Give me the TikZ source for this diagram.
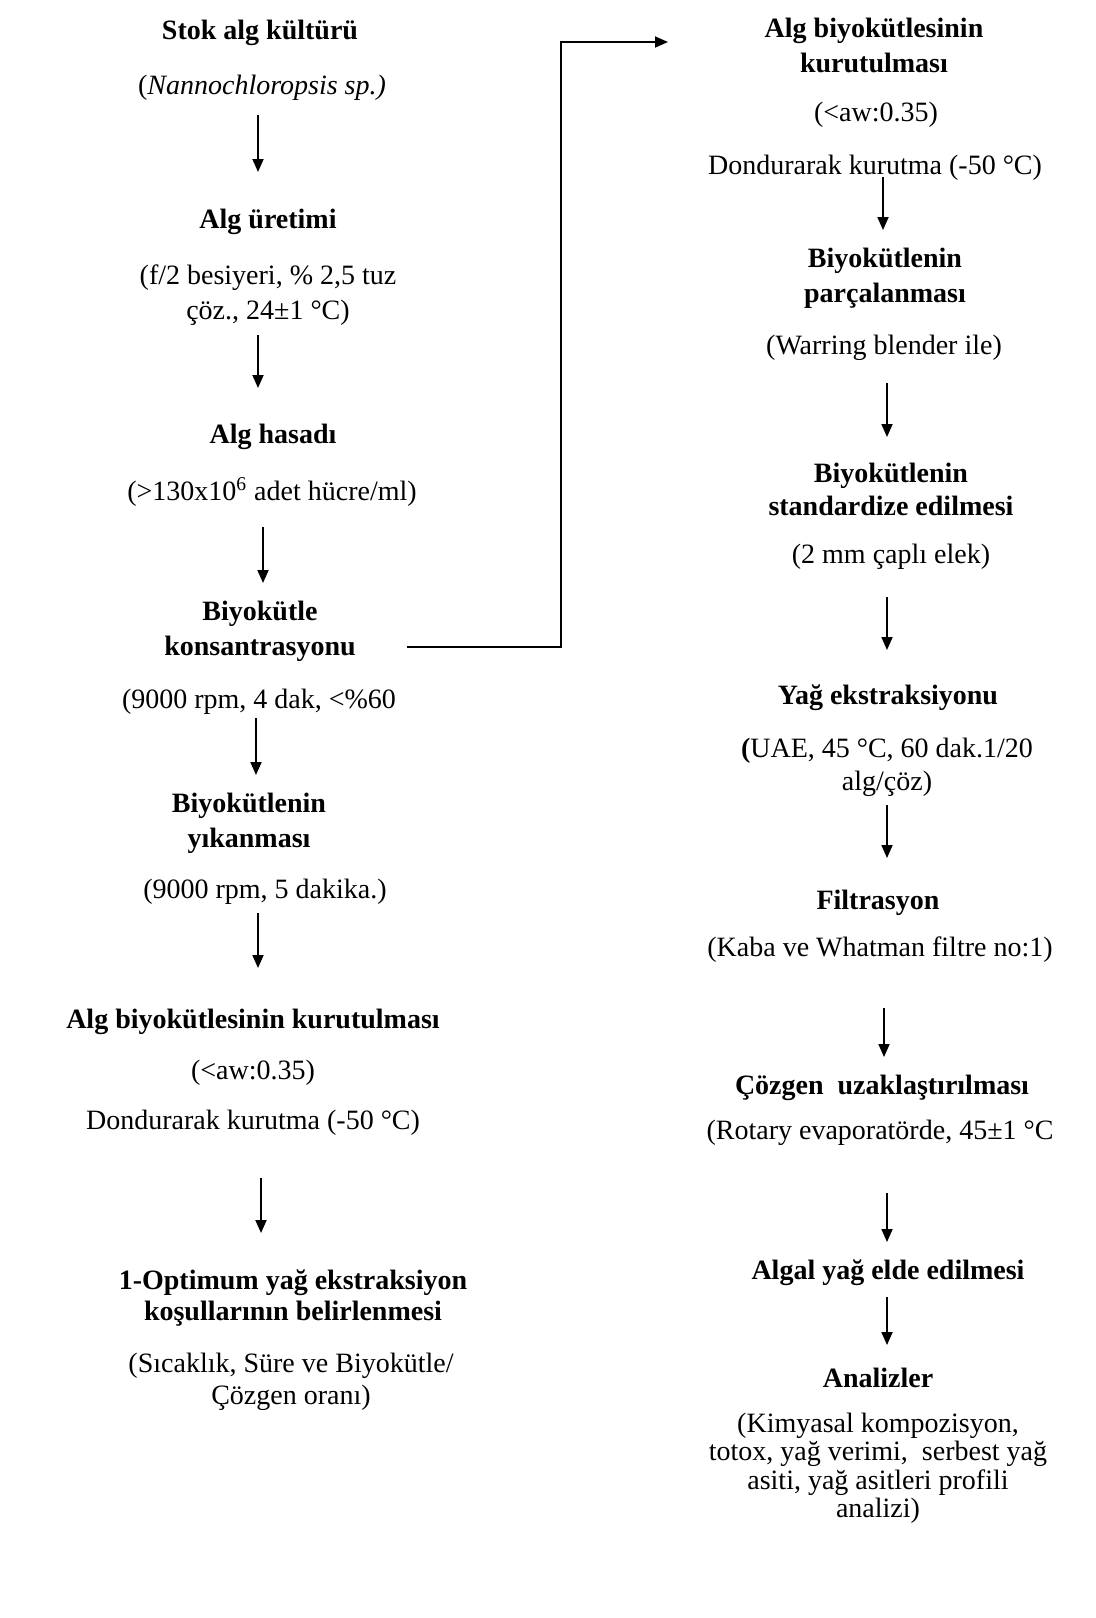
\documentclass[tikz,border=0pt]{standalone}
\usepackage{fontspec}
\setmainfont{Liberation Serif}
\usetikzlibrary{arrows.meta}

\begin{document}
\begin{tikzpicture}[x=0.5pt,y=-0.5pt,>={Triangle[length=6.5pt,width=5.5pt]},
  head/.style={font=\fontsize{14}{17.5}\selectfont\bfseries,align=center,inner sep=0pt},
  note/.style={font=\fontsize{14}{16.5}\selectfont,align=center,inner sep=0pt},
  arr/.style={->,line width=0.9pt}]
  \useasboundingbox (0,0) rectangle (1096,1618);

  % left column
  \node[head] (stok) at (260,33) {Stok alg kültürü};
  \node[note] (nano) at (262,88) {(\textit{Nannochloropsis sp.)}};
  \node[head] (urt) at (268,222) {Alg üretimi};
  \node[note,font=\fontsize{14}{17.5}\selectfont] (urtx) at (268,295) {(f/2 besiyeri, \% 2,5 tuz\\çöz., 24±1 °C)};
  \node[head] (has) at (273,437) {Alg hasadı};
  \node[note] (hasx) at (272,492) {(>130x10\textsuperscript{6} adet hücre/ml)};
  \node[head] (kons) at (260,631) {Biyokütle\\konsantrasyonu};
  \node[note] (konsx) at (259,702) {(9000 rpm, 4 dak, <\%60};
  \node[head] (yik) at (249,823) {Biyokütlenin\\yıkanması};
  \node[note] (yikx) at (265,892) {(9000 rpm, 5 dakika.)};
  \node[head] (kur) at (253,1022) {Alg biyokütlesinin kurutulması};
  \node[note] (kurx) at (253,1073) {(<aw:0.35)};
  \node[note] (kury) at (253,1123) {Dondurarak kurutma (-50 °C)};
  \node[head,font=\fontsize{14}{15.5}\selectfont\bfseries] (opt) at (293,1298) {1-Optimum yağ ekstraksiyon\\koşullarının belirlenmesi};
  \node[note,font=\fontsize{14}{16}\selectfont] (optx) at (291,1382) {(Sıcaklık, Süre ve Biyokütle/\\Çözgen oranı)};

  % right column
  \node[head] (kur2) at (874,45) {Alg biyokütlesinin\\kurutulması};
  \node[note] (kur2x) at (876,115) {(<aw:0.35)};
  \node[note] (kur2y) at (875,168) {Dondurarak kurutma (-50 °C)};
  \node[head] (par) at (885,278) {Biyokütlenin\\parçalanması};
  \node[note] (parx) at (884,348) {(Warring blender ile)};
  \node[head,font=\fontsize{14}{16.5}\selectfont\bfseries] (std) at (891,489) {Biyokütlenin\\standardize edilmesi};
  \node[note] (stdx) at (891,557) {(2 mm çaplı elek)};
  \node[head] (yag) at (888,698) {Yağ ekstraksiyonu};
  \node[note] (yagx) at (887,767) {\textbf{(}UAE, 45 °C, 60 dak.1/20\\alg/çöz)};
  \node[head] (fil) at (878,903) {Filtrasyon};
  \node[note] (filx) at (880,950) {(Kaba ve Whatman filtre no:1)};
  \node[head] (coz) at (882,1088) {Çözgen\ \ uzaklaştırılması};
  \node[note] (cozx) at (880,1133) {(Rotary evaporatörde, 45±1 °C};
  \node[head] (alg) at (888,1273) {Algal yağ elde edilmesi};
  \node[head] (ana) at (878,1378) {Analizler};
  \node[note,font=\fontsize{14}{14.25}\selectfont] (anax) at (878,1468) {(Kimyasal kompozisyon,\\totox, yağ verimi,\ \ serbest yağ\\asiti, yağ asitleri profili\\analizi)};

  % arrows
  \draw[arr] ([shift={(-4,27)}]nano.center) -- ([shift={(-10,-50)}]urt.center);
  \draw[arr] ([shift={(-10,40)}]urtx.center) -- ([shift={(-15,-49)}]has.center);
  \draw[arr] ([shift={(-9,35)}]hasx.center) -- ([shift={(3,-48)}]kons.center);
  \draw[arr] ([shift={(-3,16)}]konsx.center) -- ([shift={(7,-48)}]yik.center);
  \draw[arr] ([shift={(-7,21)}]yikx.center) -- ([shift={(5,-54)}]kur.center);
  \draw[arr] ([shift={(8,55)}]kury.center) -- ([shift={(-32,-65)}]opt.center);
  \draw[arr] ([shift={(147,16)}]kons.center) -- ++(154,0) |- ([shift={(-206,-3)}]kur2.center);
  \draw[arr] ([shift={(8,9)}]kur2y.center) -- ([shift={(-2,-48)}]par.center);
  \draw[arr] ([shift={(3,35)}]parx.center) -- ([shift={(-4,-52)}]std.center);
  \draw[arr] ([shift={(-4,40)}]stdx.center) -- ([shift={(-1,-48)}]yag.center);
  \draw[arr] ([shift={(0,38)}]yagx.center) -- ([shift={(9,-45)}]fil.center);
  \draw[arr] ([shift={(4,58)}]filx.center) -- ([shift={(2,-31)}]coz.center);
  \draw[arr] ([shift={(7,60)}]cozx.center) -- ([shift={(-1,-31)}]alg.center);
  \draw[arr] ([shift={(-1,24)}]alg.center) -- ([shift={(9,-33)}]ana.center);
\end{tikzpicture}
\end{document}
